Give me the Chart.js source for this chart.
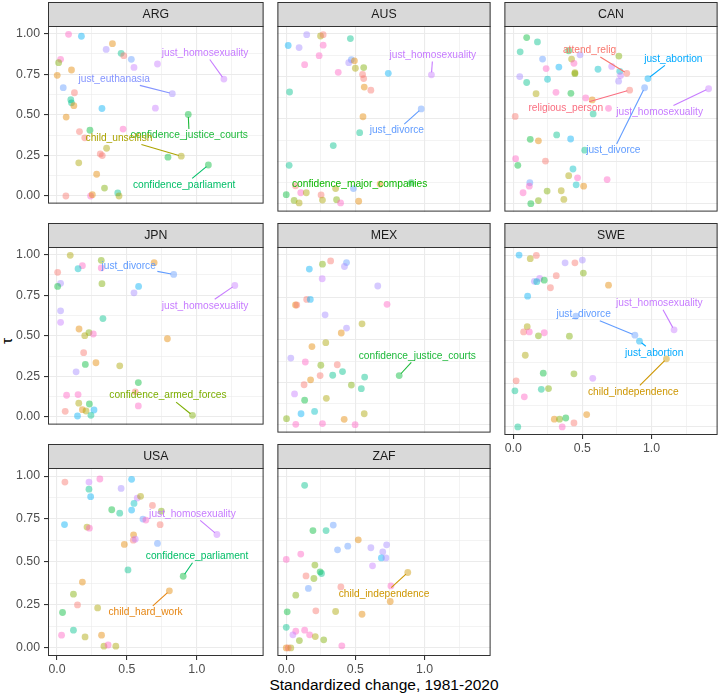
<!DOCTYPE html>
<html lang="en">
<head>
<meta charset="UTF-8">
<title>Standardized change by country</title>
<script src="https://cdn.jsdelivr.net/npm/chart.js@4.4.1/dist/chart.umd.min.js"></script>
<style>
  body { margin: 0; background: #fff; width: 722px; height: 696px; position: relative; overflow: hidden;
         font-family: "Liberation Sans", Arial, sans-serif; }
  canvas { position: absolute; }
  #xtitle { position: absolute; left: 48px; width: 672px; top: 676px; line-height: 18px;
            text-align: center; font-size: 15.5px; color: #000; }
  #ytitle { position: absolute; left: -3px; top: 331px; width: 20px; height: 20px; line-height: 20px;
            text-align: center; font-size: 15.5px; color: #000; transform: rotate(-90deg); }
</style>
</head>
<body>
<div id="xtitle">Standardized change, 1981-2020</div>
<div id="ytitle">τ</div>
<script>
// facets, in reading order
const countries = ['ARG', 'AUS', 'CAN', 'JPN', 'MEX', 'SWE', 'USA', 'ZAF'];

// axis ticks (major + minor grid)
const xTicks = [0, 0.25, 0.5, 0.75, 1, 1.25];
const yTicks = [0, 0.125, 0.25, 0.375, 0.5, 0.625, 0.75, 0.875, 1];

// --- point data: x = standardized change, y = tau, c = colour key ---
const argX = [0.083,0.175,0.397,0.352,0.459,0.478,0.532,0.026,0.719,0.012,0.551,0.104,0.002,1.194,0.045,0.125,0.825,0.099,0.104,0.121,0.322,0.704,0.939,0.066,0.161,0.236,0.473,0.199,0.355,0.310,0.324,0.794,0.889,0.156,1.083,0.284,0.340,0.435,0.444,0.064,0.241,0.253];
const argY = [0.996,0.984,0.938,0.903,0.879,0.864,0.842,0.842,0.813,0.821,0.792,0.776,0.743,0.720,0.667,0.636,0.630,0.593,0.574,0.556,0.539,0.541,0.502,0.486,0.397,0.405,0.412,0.358,0.294,0.259,0.249,0.239,0.245,0.204,0.191,0.134,0.049,0.019,0.000,0.000,0.000,0.008];
const argC = 'k s o l t r b k p g p o o p b r l t t o s p G o r G k r y r r G y y G o g t y r k o';

const ausX = [0.148,0.248,0.267,0.464,0.014,0.093,0.267,0.238,0.133,0.471,0.452,0.493,0.500,0.560,0.376,0.552,0.560,0.738,1.050,0.024,0.564,0.612,0.976,0.555,0.531,0.340,0.021,0.067,0.105,0.145,0.357,0.486,0.679,0.905,0.000,0.057,0.093,0.252,0.262,0.364,0.393,0.524];
const ausY = [0.996,0.988,0.996,0.973,0.932,0.920,0.934,0.872,0.819,0.848,0.831,0.842,0.798,0.802,0.774,0.761,0.737,0.768,0.759,0.658,0.687,0.669,0.558,0.512,0.418,0.342,0.226,0.105,0.064,0.064,0.089,0.089,0.115,0.123,0.053,0.019,0.004,0.051,0.021,0.023,0.004,0.014];
const ausC = 'l y r t s l k k k b l o y g k r r s p t o r b o t t t r k y y b o G G g y r y g k o';

const canX = [0.097,0.175,0.050,0.401,0.212,0.238,0.330,0.422,0.439,0.483,0.446,0.446,0.613,0.712,0.764,0.771,0.776,0.762,0.821,0.974,0.950,1.413,0.842,0.047,0.097,0.248,0.165,0.309,0.417,0.524,0.571,0.578,0.689,0.014,0.123,0.182,0.314,0.415,0.517,0.017,0.033,0.233,0.432,0.401,0.465,0.679,0.120,0.116,0.455,0.509,0.071,0.245,0.347,0.366,0.182,0.127];
const canY = [0.979,0.953,0.895,0.901,0.852,0.796,0.805,0.852,0.827,0.877,0.772,0.766,0.792,0.809,0.870,0.780,0.755,0.722,0.768,0.737,0.683,0.677,0.669,0.749,0.714,0.733,0.648,0.656,0.650,0.623,0.611,0.529,0.562,0.514,0.379,0.370,0.405,0.381,0.315,0.265,0.226,0.251,0.204,0.165,0.152,0.142,0.123,0.103,0.111,0.103,0.064,0.074,0.076,0.025,0.018,0.000];
const canC = 'G t t G b k s y k l y g c p g c p l r s b p r l t c y k G k o t k r G o t s t k G r c y k k b k c o k g y y g G';

const jpnX = [0.095,0.317,0.182,0.151,0.317,0.695,0.835,0.005,0.026,0.005,0.322,0.551,0.584,1.272,0.026,0.026,0.329,0.158,0.229,0.199,0.260,0.790,0.191,0.279,0.203,0.449,0.137,0.582,0.560,0.069,0.151,0.156,0.232,0.582,0.059,0.182,0.208,0.265,0.147,0.243,0.969];
const jpnY = [0.996,0.965,0.932,0.913,0.918,0.950,0.878,0.891,0.823,0.804,0.821,0.765,0.804,0.810,0.654,0.583,0.606,0.542,0.520,0.501,0.511,0.482,0.396,0.334,0.324,0.315,0.278,0.212,0.155,0.134,0.138,0.085,0.080,0.068,0.035,0.045,0.037,0.043,0.006,0.010,0.010];
const jpnC = 'y g k c k o b r l G g l s p l p t o g y k o r o G y l G r k k y G k r o y s s t g';

const mexX = [0.321,0.262,0.436,0.421,0.167,0.260,0.662,0.148,0.174,0.067,0.076,0.729,0.281,0.548,0.436,0.398,0.286,0.186,0.033,0.138,0.250,0.369,0.407,0.336,0.245,0.567,0.817,0.176,0.129,0.471,0.543,0.060,0.133,0.290,0.205,0.107,0.564,0.002,0.419,0.069,0.262,0.498];
const mexY = [0.965,0.946,0.955,0.932,0.917,0.860,0.817,0.738,0.738,0.705,0.705,0.709,0.647,0.594,0.569,0.540,0.483,0.460,0.392,0.369,0.350,0.353,0.313,0.291,0.289,0.280,0.289,0.264,0.235,0.233,0.212,0.181,0.144,0.155,0.078,0.064,0.064,0.035,0.031,0.002,0.006,0.000];
const mexC = 'r g b l s p l r s o r k l y l o y o l k g r t t r t G o r g t p G y c s y g o k k k';

const sweX = [0.042,0.123,0.167,0.375,0.446,0.500,0.507,0.311,0.191,0.153,0.170,0.224,0.269,0.689,0.104,0.453,0.101,0.075,0.116,0.224,0.182,0.406,1.163,0.880,0.913,1.108,0.087,0.217,0.439,0.575,0.021,0.012,0.080,0.203,0.255,0.531,0.297,0.335,0.380,0.439,0.354,0.033];
const sweY = [1.000,0.979,0.998,0.955,0.955,0.971,0.895,0.880,0.864,0.847,0.845,0.854,0.810,0.825,0.761,0.645,0.583,0.553,0.553,0.548,0.530,0.528,0.565,0.534,0.499,0.396,0.417,0.313,0.309,0.283,0.268,0.210,0.175,0.219,0.223,0.072,0.045,0.045,0.052,0.023,0.000,0.000];
const sweC = 's y r l r l g r p l c G r o s b y r k k g g p b s d y G g p r t k t g o o g G r k t';

const usaX = [0.057,0.229,0.307,0.534,0.459,0.229,0.241,0.574,0.598,0.551,0.683,0.392,0.449,0.534,0.747,0.615,0.636,0.738,0.054,0.215,0.232,1.144,0.548,0.546,0.560,0.719,0.482,0.508,0.903,0.804,0.182,0.118,0.147,0.291,0.040,0.118,0.033,0.201,0.319,0.336,0.366,0.421];
const usaY = [0.965,0.965,0.983,0.981,0.928,0.924,0.880,0.872,0.882,0.841,0.829,0.804,0.784,0.802,0.796,0.750,0.744,0.717,0.718,0.703,0.697,0.660,0.658,0.627,0.633,0.608,0.602,0.454,0.417,0.332,0.383,0.313,0.250,0.233,0.206,0.103,0.074,0.064,0.074,0.010,0.017,0.010];
const usaC = 'r p k s l t s p y c r G t s g b k r s y k p o r p b o t G o o g r y G t k y o y k y';

const zafX = [0.133,0.193,0.288,0.340,0.521,0.445,0.371,0.612,0.726,0.698,0.688,0.721,0.105,0.000,0.624,0.207,0.245,0.255,0.143,0.200,0.879,0.757,0.395,0.160,0.069,0.752,0.007,0.214,0.357,0.548,0.000,0.069,0.133,0.048,0.169,0.210,0.095,0.271,0.402,0.000,0.033,0.014];
const zafY = [0.946,0.683,0.683,0.715,0.629,0.592,0.571,0.583,0.600,0.559,0.524,0.524,0.546,0.515,0.478,0.482,0.443,0.433,0.419,0.404,0.439,0.361,0.355,0.346,0.307,0.270,0.210,0.216,0.212,0.196,0.120,0.097,0.103,0.076,0.076,0.066,0.043,0.047,0.012,0.000,0.000,0.000];
const zafC = 't G t b o b b l l l s l k k p g G t r g d k r b g o G r y o t k k p k y g g k o y r';

// --- labelled points: [text, point index, label x, label y] ---
const argLabels = [['just_homosexuality', 13, 1.059, 0.881], ['just_euthanasia', 16, 0.409, 0.722],
  ['confidence_justice_courts', 22, 0.946, 0.372], ['child_unselfish', 32, 0.444, 0.358],
  ['confidence_parliament', 34, 0.910, 0.068]];
const ausLabels = [['just_homosexuality', 18, 1.060, 0.877], ['just_divorce', 22, 0.800, 0.430],
  ['confidence_major_companies', 33, 0.531, 0.117]];
const canLabels = [['attend_relig', 18, 0.552, 0.903], ['just_abortion', 19, 1.158, 0.854],
  ['religious_person', 22, 0.380, 0.562], ['just_homosexuality', 21, 1.059, 0.539],
  ['just_divorce', 20, 0.724, 0.313]];
const jpnLabels = [['just_divorce', 6, 0.513, 0.930], ['just_homosexuality', 13, 1.059, 0.685],
  ['confidence_armed_forces', 40, 0.794, 0.132]];
const mexLabels = [['confidence_justice_courts', 26, 0.948, 0.406]];
const sweLabels = [['just_homosexuality', 22, 1.057, 0.720], ['just_divorce', 23, 0.509, 0.656],
  ['just_abortion', 24, 1.019, 0.431], ['child_independence', 25, 0.868, 0.204]];
const usaLabels = [['just_homosexuality', 21, 0.969, 0.781], ['confidence_parliament', 28, 1.002, 0.534],
  ['child_hard_work', 29, 0.634, 0.206]];
const zafLabels = [['child_independence', 20, 0.707, 0.313]];

// colours
const palette = { r: '#F8766D', o: '#E58700', d: '#CD9600', y: '#ABA300', g: '#7CAE00', G: '#00BA38',
  t: '#00C08B', c: '#00BFC4', s: '#00B0F6', b: '#619CFF', l: '#A58AFF', p: '#C77CFF', k: '#FF61C3' };
const labelColors = {
  just_homosexuality: '#C77CFF', just_euthanasia: '#8494FF', just_divorce: '#619CFF', just_abortion: '#00A9FF',
  confidence_justice_courts: '#1DB93A', confidence_parliament: '#00BE67', confidence_major_companies: '#0CB702',
  confidence_armed_forces: '#7CAE00', child_unselfish: '#ABA300', child_independence: '#CD9600',
  child_hard_work: '#E68613', attend_relig: '#F8766D', religious_person: '#FA6E80'
};

const panels = {
  ARG: [argX, argY, argC, argLabels], AUS: [ausX, ausY, ausC, ausLabels], CAN: [canX, canY, canC, canLabels],
  JPN: [jpnX, jpnY, jpnC, jpnLabels], MEX: [mexX, mexY, mexC, mexLabels], SWE: [sweX, sweY, sweC, sweLabels],
  USA: [usaX, usaY, usaC, usaLabels], ZAF: [zafX, zafY, zafC, zafLabels]
};

// layout
const FONT = '"Liberation Sans", Arial, sans-serif';
const colLeft = [48, 275, 502];
const rowTop = [26, 247, 468];
const PLOT_W = 218, PLOT_H = 188, STRIP_H = 24;
const LABEL_SIZE = 10.2;

function rgba(hex, a) {
  const n = parseInt(hex.slice(1), 16);
  return `rgba(${n >> 16}, ${(n >> 8) & 255}, ${n & 255}, ${a})`;
}
const isMult = (v, step) => Math.abs(v / step - Math.round(v / step)) < 1e-6;

// grey strip with the facet name, plus the panel border
const stripPlugin = {
  id: 'strip',
  beforeDraw(chart, args, opts) {
    const { ctx, chartArea: a } = chart;
    ctx.save();
    ctx.fillStyle = '#D9D9D9';
    ctx.fillRect(a.left, a.top - STRIP_H, a.right - a.left, STRIP_H);
    ctx.strokeStyle = '#333333';
    ctx.lineWidth = 1;
    ctx.strokeRect(a.left + 0.5, a.top - STRIP_H + 0.5, a.right - a.left - 1, STRIP_H);
    ctx.fillStyle = '#1A1A1A';
    ctx.font = `12.3px ${FONT}`;
    ctx.textAlign = 'center';
    ctx.textBaseline = 'middle';
    ctx.fillText(opts.title, (a.left + a.right) / 2, a.top - STRIP_H / 2 + 0.5);
    ctx.restore();
  },
  afterDraw(chart) {
    const { ctx, chartArea: a } = chart;
    ctx.save();
    ctx.strokeStyle = '#333333';
    ctx.lineWidth = 1;
    ctx.strokeRect(a.left + 0.5, a.top + 0.5, a.right - a.left - 1, a.bottom - a.top - 1);
    ctx.restore();
  }
};

// text labels with a connector segment (ggrepel look)
const repelPlugin = {
  id: 'repel',
  afterDatasetsDraw(chart, args, opts) {
    const { ctx } = chart;
    const xs = chart.scales.x, ys = chart.scales.y;
    const meta = chart.getDatasetMeta(0);
    ctx.save();
    ctx.font = `${LABEL_SIZE}px ${FONT}`;
    ctx.textAlign = 'center';
    ctx.textBaseline = 'middle';
    opts.items.forEach(([text, idx, lx, ly]) => {
      const col = labelColors[text];
      const pt = meta.data[idx];
      const cx = xs.getPixelForValue(lx), cy = ys.getPixelForValue(ly);
      const hw = ctx.measureText(text).width / 2 + 1.5, hh = LABEL_SIZE / 2 + 1.5;
      const dx = pt.x - cx, dy = pt.y - cy;
      if (Math.abs(dx) > hw || Math.abs(dy) > hh) {
        const t = Math.min(dx ? hw / Math.abs(dx) : Infinity, dy ? hh / Math.abs(dy) : Infinity);
        const sx = cx + dx * t, sy = cy + dy * t;
        const len = Math.hypot(pt.x - sx, pt.y - sy);
        if (len > 6) {
          const ex = pt.x - (pt.x - sx) / len * 2.5, ey = pt.y - (pt.y - sy) / len * 2.5;
          ctx.strokeStyle = col;
          ctx.lineWidth = 1.1;
          ctx.beginPath();
          ctx.moveTo(sx, sy);
          ctx.lineTo(ex, ey);
          ctx.stroke();
        }
      }
      ctx.fillStyle = col;
      ctx.fillText(text, cx, cy);
    });
    ctx.restore();
  }
};

countries.forEach((name, i) => {
  const [px, py, pc, labels] = panels[name];
  const col = i % 3, row = Math.floor(i / 3);
  const leftAxis = col === 0;
  const bottomAxis = i + 3 >= countries.length;
  const yW = leftAxis ? 47 : 0;
  const xH = bottomAxis ? 22 : 0;

  const cv = document.createElement('canvas');
  cv.width = yW + PLOT_W + 2;
  cv.height = STRIP_H + 1 + PLOT_H + xH + 1;
  cv.style.left = (colLeft[col] - yW - 1) + 'px';
  cv.style.top = (rowTop[row] - STRIP_H - 1) + 'px';
  document.body.appendChild(cv);

  const keys = pc.split(' ');

  new Chart(cv, {
    type: 'scatter',
    data: {
      datasets: [{
        data: px.map((v, k) => ({ x: v, y: py[k] })),
        backgroundColor: keys.map(k => rgba(palette[k], 0.45)),
        borderWidth: 0,
        pointRadius: 3.4,
        pointHoverRadius: 3.4
      }]
    },
    options: {
      responsive: false,
      animation: false,
      events: [],
      layout: { padding: { top: STRIP_H + 1, left: 1, right: 1, bottom: 1 } },
      plugins: {
        legend: { display: false },
        tooltip: { enabled: false },
        strip: { title: name },
        repel: { items: labels }
      },
      scales: {
        x: {
          type: 'linear',
          min: -0.064,
          max: 1.478,
          afterBuildTicks: s => { s.ticks = xTicks.map(v => ({ value: v })); },
          afterFit: s => { s.height = xH; },
          border: { display: false },
          grid: {
            color: '#EBEBEB',
            lineWidth: c => isMult(c.tick.value, 0.5) ? 1.1 : 0.6,
            drawTicks: bottomAxis,
            tickLength: 4,
            tickColor: c => isMult(c.tick.value, 0.5) ? '#333333' : 'rgba(0,0,0,0)'
          },
          ticks: {
            display: bottomAxis,
            autoSkip: false,
            maxRotation: 0,
            padding: 2,
            color: '#4D4D4D',
            font: { size: 12.3, family: FONT },
            callback: v => isMult(v, 0.5) ? v.toFixed(1) : ''
          }
        },
        y: {
          type: 'linear',
          min: -0.047,
          max: 1.047,
          afterBuildTicks: s => { s.ticks = yTicks.map(v => ({ value: v })); },
          afterFit: s => { s.width = yW; },
          border: { display: false },
          grid: {
            color: '#EBEBEB',
            lineWidth: c => isMult(c.tick.value, 0.25) ? 1.1 : 0.6,
            drawTicks: leftAxis,
            tickLength: 4,
            tickColor: c => isMult(c.tick.value, 0.25) ? '#333333' : 'rgba(0,0,0,0)'
          },
          ticks: {
            display: leftAxis,
            autoSkip: false,
            padding: 4,
            color: '#4D4D4D',
            font: { size: 12.3, family: FONT },
            callback: v => isMult(v, 0.25) ? v.toFixed(2) : ''
          }
        }
      }
    },
    plugins: [stripPlugin, repelPlugin]
  });
});
</script>
</body>
</html>
